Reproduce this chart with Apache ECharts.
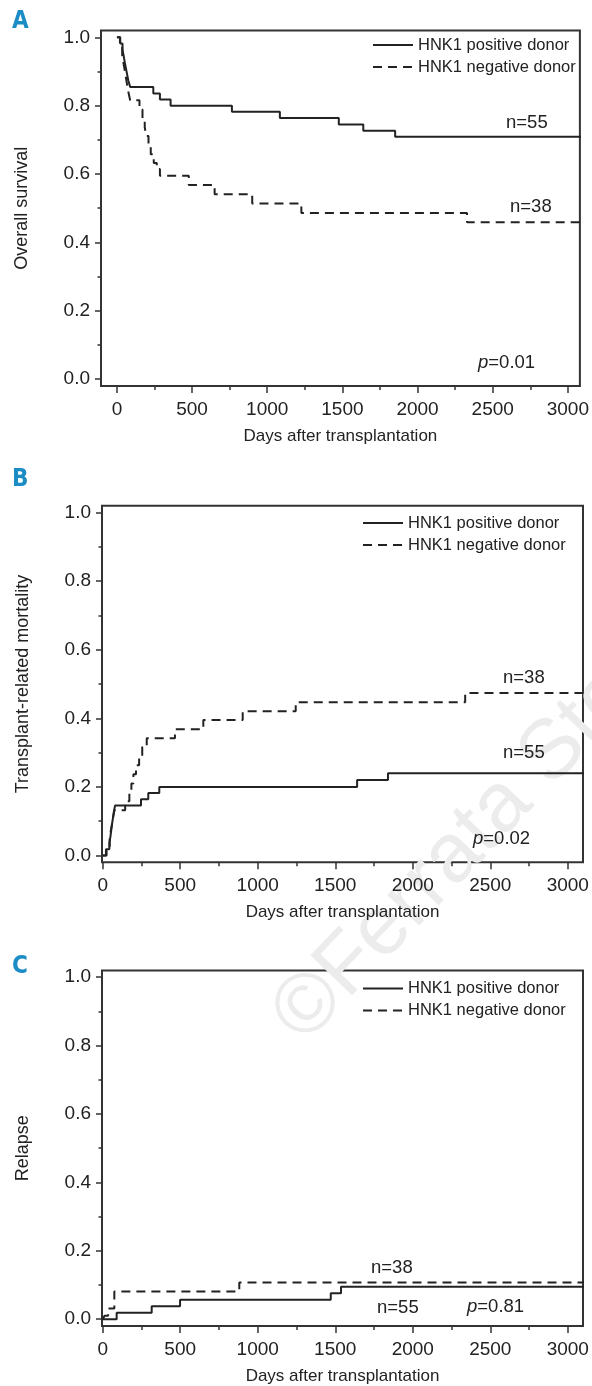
<!DOCTYPE html>
<html>
<head>
<meta charset="utf-8">
<script src="https://cdn.jsdelivr.net/npm/echarts@6/dist/echarts.min.js"></script>
<style>
  html, body { margin: 0; padding: 0; background: #fff; }
  #chart { width: 592px; height: 1386px; }
</style>
</head>
<body>
<div id="chart"></div>
<script>
// axis ticks
const xTicks = [0, 500, 1000, 1500, 2000, 2500, 3000];
const xMinor = [250, 750, 1250, 1750, 2250, 2750];
const yTicks = [0, 0.2, 0.4, 0.6, 0.8, 1.0];
const yMinor = [0.1, 0.3, 0.5, 0.7, 0.9];
const seriesNames = ['HNK1 positive donor', 'HNK1 negative donor'];

// A - overall survival (step points: day, value after event)
const osPosDays = [0, 22, 37, 45, 52, 60, 68, 76, 88, 242, 286, 357, 765, 1084, 1476, 1639, 1851, 3150];
const osPosVals = [1, 0.982, 0.964, 0.945, 0.927, 0.909, 0.891, 0.873, 0.855, 0.836, 0.818, 0.80, 0.782, 0.764, 0.745, 0.727, 0.709, 0.709];
const osNegDays = [0, 20, 35, 45, 55, 65, 75, 88, 150, 170, 185, 195, 210, 225, 245, 265, 286, 478, 650, 900, 1227, 2329, 3150];
const osNegVals = [1, 0.974, 0.947, 0.921, 0.895, 0.868, 0.842, 0.816, 0.789, 0.763, 0.737, 0.711, 0.684, 0.658, 0.632, 0.615, 0.595, 0.568, 0.541, 0.514, 0.486, 0.459, 0.459];

// B - transplant-related mortality
const trmPosDays = [0, 21, 43, 50, 55, 60, 66, 72, 80, 247, 294, 365, 1641, 1840, 3150];
const trmPosVals = [0, 0.018, 0.036, 0.055, 0.073, 0.091, 0.109, 0.127, 0.146, 0.164, 0.182, 0.20, 0.22, 0.24, 0.24];
const trmNegDays = [0, 25, 45, 55, 65, 75, 145, 172, 185, 198, 215, 235, 255, 284, 466, 649, 903, 1245, 2338, 3150];
const trmNegVals = [0, 0.026, 0.053, 0.079, 0.105, 0.132, 0.158, 0.184, 0.21, 0.237, 0.263, 0.289, 0.316, 0.342, 0.368, 0.395, 0.421, 0.447, 0.474, 0.474];

// C - relapse
const relPosDays = [0, 90, 316, 499, 1471, 1537, 3150];
const relPosVals = [0, 0.019, 0.038, 0.057, 0.076, 0.095, 0.095];
const relNegDays = [0, 12, 35, 75, 881, 3150];
const relNegVals = [0, 0.01, 0.031, 0.081, 0.107, 0.107];

const FONT = "'Liberation Sans', Arial, sans-serif";
const LETTER_FONT = "'DejaVu Sans Condensed', 'Liberation Sans', sans-serif";
const INK = '#222';

const panels = [
    { letter: 'A', yName: 'Overall survival', grid: { left: 101, top: 30.5, width: 482, height: 355.4 }, xMin: -106, xMax: 3080,
      pos: [osPosDays, osPosVals], neg: [osNegDays, osNegVals],
      notes: [['n=55', 506, 123], ['n=38', 510, 207], ['{i|p}=0.01', 478, 363]], legend: { left: 372, top: 36.5 } },
    { letter: 'B', yName: 'Transplant-related mortality', grid: { left: 102, top: 505.8, width: 481, height: 356.5 }, xMin: -4.5, xMax: 3098,
      pos: [trmPosDays, trmPosVals], neg: [trmNegDays, trmNegVals],
      notes: [['n=38', 503, 678], ['n=55', 503, 753], ['{i|p}=0.02', 473, 839]], legend: { left: 362, top: 514.5 } },
    { letter: 'C', yName: 'Relapse', grid: { left: 102, top: 970.4, width: 481, height: 356.4 }, xMin: -4.5, xMax: 3098,
      pos: [relPosDays, relPosVals], neg: [relNegDays, relNegVals],
      notes: [['n=38', 371, 1268], ['n=55', 377, 1308], ['{i|p}=0.81', 467, 1307]], legend: { left: 362, top: 980 } }
];

const grids = [], xAxes = [], yAxes = [], series = [], legends = [], graphics = [];
const letterY = [21.7, 480, 966.7];

// watermark
graphics.push({
    type: 'text', x: 318, y: 1058, rotation: Math.PI / 4 + 0.02, z: 0,
    style: { text: '©Ferrata Storti', font: "84px 'Liberation Sans', sans-serif", fill: '#ececec', verticalAlign: 'bottom' }
});

panels.forEach((p, k) => {
    grids.push(Object.assign({ show: true, borderColor: '#333', borderWidth: 2, backgroundColor: 'transparent' }, p.grid));
    const xBase = { type: 'value', gridIndex: k, min: p.xMin, max: p.xMax, position: 'bottom', splitLine: { show: false } };
    const yBase = { type: 'value', gridIndex: k, min: -0.02, max: 1.02, position: 'left', splitLine: { show: false } };
    xAxes.push(Object.assign({}, xBase, {
        axisLine: { show: false, onZero: false },
        axisTick: { show: true, customValues: xTicks, length: 7, lineStyle: { color: '#333', width: 1.5 } },
        axisLabel: { customValues: xTicks, color: INK, fontFamily: FONT, fontSize: 19, margin: 14, formatter: v => String(v) },
        name: 'Days after transplantation', nameLocation: 'middle', nameGap: 42,
        nameTextStyle: { color: INK, fontFamily: FONT, fontSize: 17 }
    }));
    xAxes.push(Object.assign({}, xBase, {
        axisLine: { show: false, onZero: false },
        axisTick: { show: true, customValues: xMinor, length: 4, lineStyle: { color: '#333', width: 1.5 } },
        axisLabel: { show: false }
    }));
    yAxes.push(Object.assign({}, yBase, {
        axisLine: { show: false, onZero: false },
        axisTick: { show: true, customValues: yTicks, length: 6, lineStyle: { color: '#333', width: 1.5 } },
        axisLabel: { customValues: yTicks, color: INK, fontFamily: FONT, fontSize: 19, margin: 11, formatter: v => v.toFixed(1) },
        name: p.yName, nameLocation: 'middle', nameGap: 70, nameRotate: 90,
        nameTextStyle: { color: INK, fontFamily: FONT, fontSize: 18 }
    }));
    yAxes.push(Object.assign({}, yBase, {
        axisLine: { show: false, onZero: false },
        axisTick: { show: true, customValues: yMinor, length: 3.5, lineStyle: { color: '#333', width: 1.5 } },
        axisLabel: { show: false }
    }));

    [p.pos, p.neg].forEach((d, j) => {
        series.push({
            name: seriesNames[j], type: 'line', step: 'end',
            xAxisIndex: 2 * k, yAxisIndex: 2 * k,
            symbol: 'none', clip: true, animation: false,
            color: INK,
            itemStyle: { color: INK },
            lineStyle: { color: INK, width: 2, type: j === 0 ? 'solid' : [9, 6] },
            data: d[0].map((x, i) => [x, d[1][i]])
        });
    });

    legends.push({
        left: p.legend.left, top: p.legend.top, orient: 'vertical', selectedMode: false, padding: 0,
        itemWidth: 40, itemHeight: 14, itemGap: 5,
        itemStyle: { opacity: 0 },
        textStyle: { color: INK, fontFamily: FONT, fontSize: 16.5 },
        data: seriesNames
    });

    graphics.push({
        type: 'text', x: 12, y: letterY[k], z: 10,
        style: { text: p.letter, font: "bold 24px " + LETTER_FONT, fill: '#1b8dc4', verticalAlign: 'middle' }
    });
    p.notes.forEach(n => {
        graphics.push({
            type: 'text', x: n[1], y: n[2], z: 10,
            style: { text: n[0], font: '18.5px ' + FONT, fill: INK, verticalAlign: 'middle',
                     rich: { i: { fontStyle: 'italic', fontFamily: FONT, fontSize: 18.5, fill: INK } } }
        });
    });
});

const chart = echarts.init(document.getElementById('chart'));
chart.setOption({
    backgroundColor: '#fff',
    animation: false,
    grid: grids,
    xAxis: xAxes,
    yAxis: yAxes,
    legend: legends,
    graphic: graphics,
    series: series
});
</script>
</body>
</html>
